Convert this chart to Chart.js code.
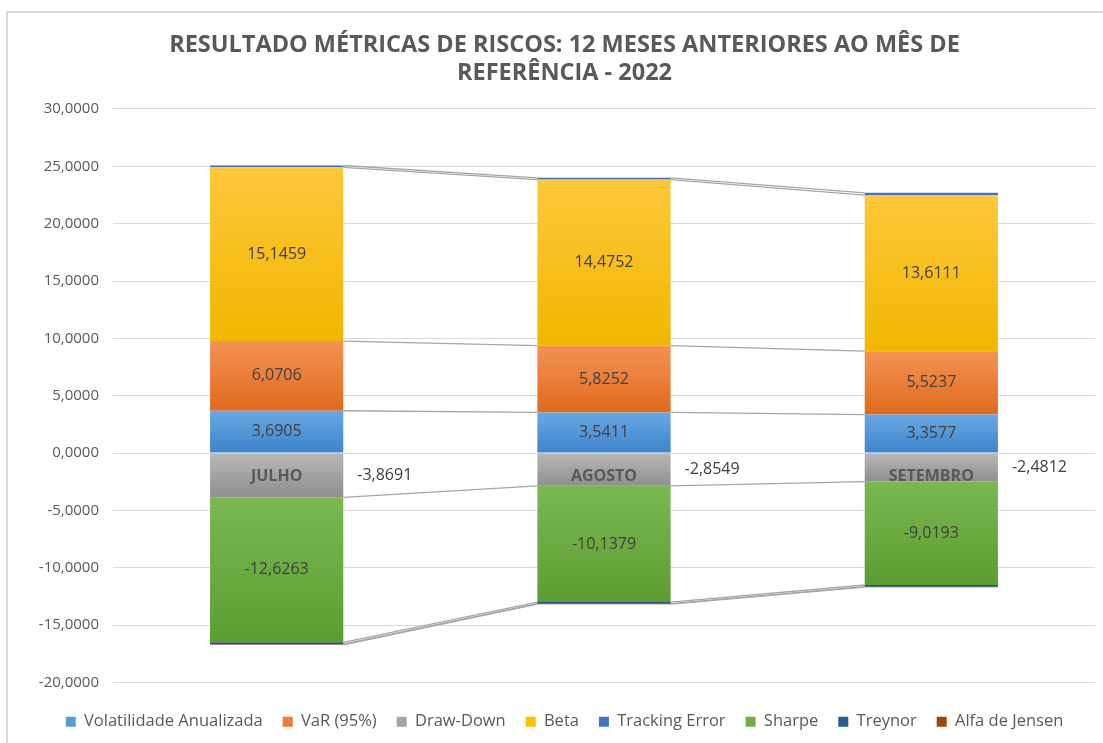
<!DOCTYPE html>
<html lang="pt">
<head>
    <meta charset="UTF-8">
    <title>Resultado Métricas de Riscos - 2022</title>
    <script src="https://cdn.jsdelivr.net/npm/chart.js"></script>
    <style>
        body {
            margin: 0;
            background: #fff;
            font-family: "Open Sans", sans-serif;
        }
        .page {
            position: relative;
            width: 1103px;
            height: 743px;
            overflow: hidden;
        }
        .frame {
            position: absolute;
            left: 6px;
            top: 11px;
            width: 1200px;
            height: 800px;
            border-top: 2px solid #d9d9d9;
            border-left: 2px solid #d9d9d9;
        }
        #chartBox {
            position: absolute;
            left: 0;
            top: 0;
            width: 1103px;
            height: 743px;
        }
    </style>
</head>
<body>
<div class="page">
    <div class="frame"></div>
    <div id="chartBox">
        <canvas id="riskChart"></canvas>
    </div>
</div>

<script>
    // meses (categorias)
    const categories = ['JULHO', 'AGOSTO', 'SETEMBRO'];

    // valores por métrica
    const volatilidade = [3.6905, 3.5411, 3.3577];
    const varValues = [6.0706, 5.8252, 5.5237];
    const drawDown = [-3.8691, -2.8549, -2.4812];
    const beta = [15.1459, 14.4752, 13.6111];
    const trackingError = [0.16, 0.15, 0.19];
    const sharpe = [-12.6263, -10.1379, -9.0193];
    const treynor = [-0.17, -0.14, -0.15];
    const alfaJensen = [-0.05, -0.04, -0.04];

    // eixo y
    const yMin = -20;
    const yMax = 30;
    const yStep = 5;

    const titleLines = [
        'RESULTADO MÉTRICAS DE RISCOS: 12 MESES ANTERIORES AO MÊS DE',
        'REFERÊNCIA - 2022'
    ];

    const FONT = '"Open Sans", sans-serif';
    const fmt = v => v.toFixed(4).replace('.', ',');

    // início/fim empilhado de um segmento (positivos e negativos separados)
    function stackRange(chart, dsIndex, i) {
        const v = chart.data.datasets[dsIndex].data[i];
        let start = 0;
        for (let d = 0; d < dsIndex; d++) {
            const w = chart.data.datasets[d].data[i];
            if ((w >= 0) === (v >= 0)) start += w;
        }
        return [start, start + v];
    }

    // preenchimento em degradê como no Excel
    function gradientFill(top, bottom) {
        return ctx => {
            const chart = ctx.chart;
            if (ctx.type !== 'data' || !chart.chartArea) return top;
            const [a, b] = stackRange(chart, ctx.datasetIndex, ctx.dataIndex);
            const y = chart.scales.y;
            const p1 = y.getPixelForValue(Math.max(a, b));
            const p2 = y.getPixelForValue(Math.min(a, b));
            if (p2 - p1 < 2) return bottom;
            const g = chart.ctx.createLinearGradient(0, p1, 0, p2);
            g.addColorStop(0, top);
            g.addColorStop(1, bottom);
            return g;
        };
    }

    const series = [
        { label: 'Volatilidade Anualizada', data: volatilidade, solid: '#5B9BD5', top: '#6aa8e2', bottom: '#3d84cc', showLabel: true },
        { label: 'VaR (95%)', data: varValues, solid: '#ED7D31', top: '#f39354', bottom: '#e06a1e', showLabel: true },
        { label: 'Draw-Down', data: drawDown, solid: '#A5A5A5', top: '#b9b9b9', bottom: '#8e8e8e', showLabel: 'side' },
        { label: 'Beta', data: beta, solid: '#FFC000', top: '#ffc73a', bottom: '#f0b700', showLabel: true },
        { label: 'Tracking Error', data: trackingError, solid: '#4472C4', top: '#4a78c8', bottom: '#3f69b6', showLabel: false },
        { label: 'Sharpe', data: sharpe, solid: '#70AD47', top: '#7ab852', bottom: '#5c9d32', showLabel: true },
        { label: 'Treynor', data: treynor, solid: '#255E91', top: '#2a6398', bottom: '#21527f', showLabel: false },
        { label: 'Alfa de Jensen', data: alfaJensen, solid: '#9E480E', top: '#a54d12', bottom: '#8c3e0b', showLabel: false }
    ];

    // linhas de série entre as barras
    const seriesLinesPlugin = {
        id: 'seriesLines',
        beforeDatasetsDraw(chart) {
            const ctx = chart.ctx;
            ctx.save();
            ctx.strokeStyle = '#a6a6a6';
            ctx.lineWidth = 1.3;
            chart.data.datasets.forEach((ds, d) => {
                const meta = chart.getDatasetMeta(d);
                for (let i = 0; i < meta.data.length - 1; i++) {
                    const a = meta.data[i], b = meta.data[i + 1];
                    ctx.beginPath();
                    ctx.moveTo(a.x + a.width / 2, a.y);
                    ctx.lineTo(b.x - b.width / 2, b.y);
                    ctx.stroke();
                }
            });
            ctx.restore();
        }
    };

    // rótulos de dados e nomes dos meses sobre a linha do zero
    const valueLabelsPlugin = {
        id: 'valueLabels',
        afterDraw(chart) {
            const ctx = chart.ctx;
            ctx.save();
            ctx.font = '16px ' + FONT;
            ctx.fillStyle = '#404040';
            ctx.textBaseline = 'middle';
            series.forEach((s, d) => {
                if (!s.showLabel) return;
                const meta = chart.getDatasetMeta(d);
                meta.data.forEach((bar, i) => {
                    const cy = (bar.y + bar.base) / 2;
                    const text = fmt(s.data[i]);
                    if (s.showLabel === 'side') {
                        ctx.textAlign = 'left';
                        ctx.fillText(text, bar.x + bar.width / 2 + 14, cy);
                    } else {
                        ctx.textAlign = 'center';
                        ctx.fillText(text, bar.x, cy);
                    }
                });
            });

            const zeroY = chart.scales.y.getPixelForValue(0);
            ctx.font = 'bold 16px ' + FONT;
            ctx.fillStyle = '#595959';
            ctx.textAlign = 'center';
            categories.forEach((c, i) => {
                ctx.fillText(c, chart.scales.x.getPixelForValue(i), zeroY + 23);
            });
            ctx.restore();
        }
    };

    const ctx = document.getElementById('riskChart').getContext('2d');
    const riskChart = new Chart(ctx, {
        type: 'bar',
        data: {
            labels: categories,
            datasets: series.map(s => ({
                label: s.label,
                data: s.data,
                backgroundColor: gradientFill(s.top, s.bottom),
                borderWidth: 0,
                barPercentage: 0.407,
                categoryPercentage: 1
            }))
        },
        options: {
            responsive: true,
            maintainAspectRatio: false,
            animation: false,
            layout: {
                padding: { left: 34, right: 8, top: 31, bottom: 3 }
            },
            plugins: {
                title: {
                    display: true,
                    text: titleLines,
                    color: '#595959',
                    font: { family: FONT, size: 23.5, weight: 'bold', lineHeight: 1.19 },
                    padding: { top: 0, bottom: 22 }
                },
                legend: {
                    position: 'bottom',
                    labels: {
                        color: '#595959',
                        font: { family: FONT, size: 16.5 },
                        boxWidth: 10,
                        boxHeight: 10,
                        padding: 20,
                        generateLabels(chart) {
                            return Chart.defaults.plugins.legend.labels.generateLabels(chart).map((item, k) => {
                                item.fillStyle = series[k].solid;
                                item.strokeStyle = series[k].solid;
                                item.lineWidth = 0;
                                return item;
                            });
                        }
                    }
                },
                tooltip: { enabled: false }
            },
            scales: {
                x: {
                    stacked: true,
                    grid: { display: false, drawTicks: false },
                    border: { display: false },
                    ticks: { display: false },
                    afterFit(scale) { scale.height = 11; }
                },
                y: {
                    stacked: true,
                    min: yMin,
                    max: yMax,
                    grid: { color: '#d9d9d9', drawTicks: false },
                    border: { display: false },
                    ticks: {
                        stepSize: yStep,
                        color: '#595959',
                        font: { family: FONT, size: 15 },
                        padding: 14,
                        callback: v => fmt(v)
                    },
                    afterFit(scale) { scale.width = 79; }
                }
            }
        },
        plugins: [seriesLinesPlugin, valueLabelsPlugin]
    });
</script>
</body>
</html>
